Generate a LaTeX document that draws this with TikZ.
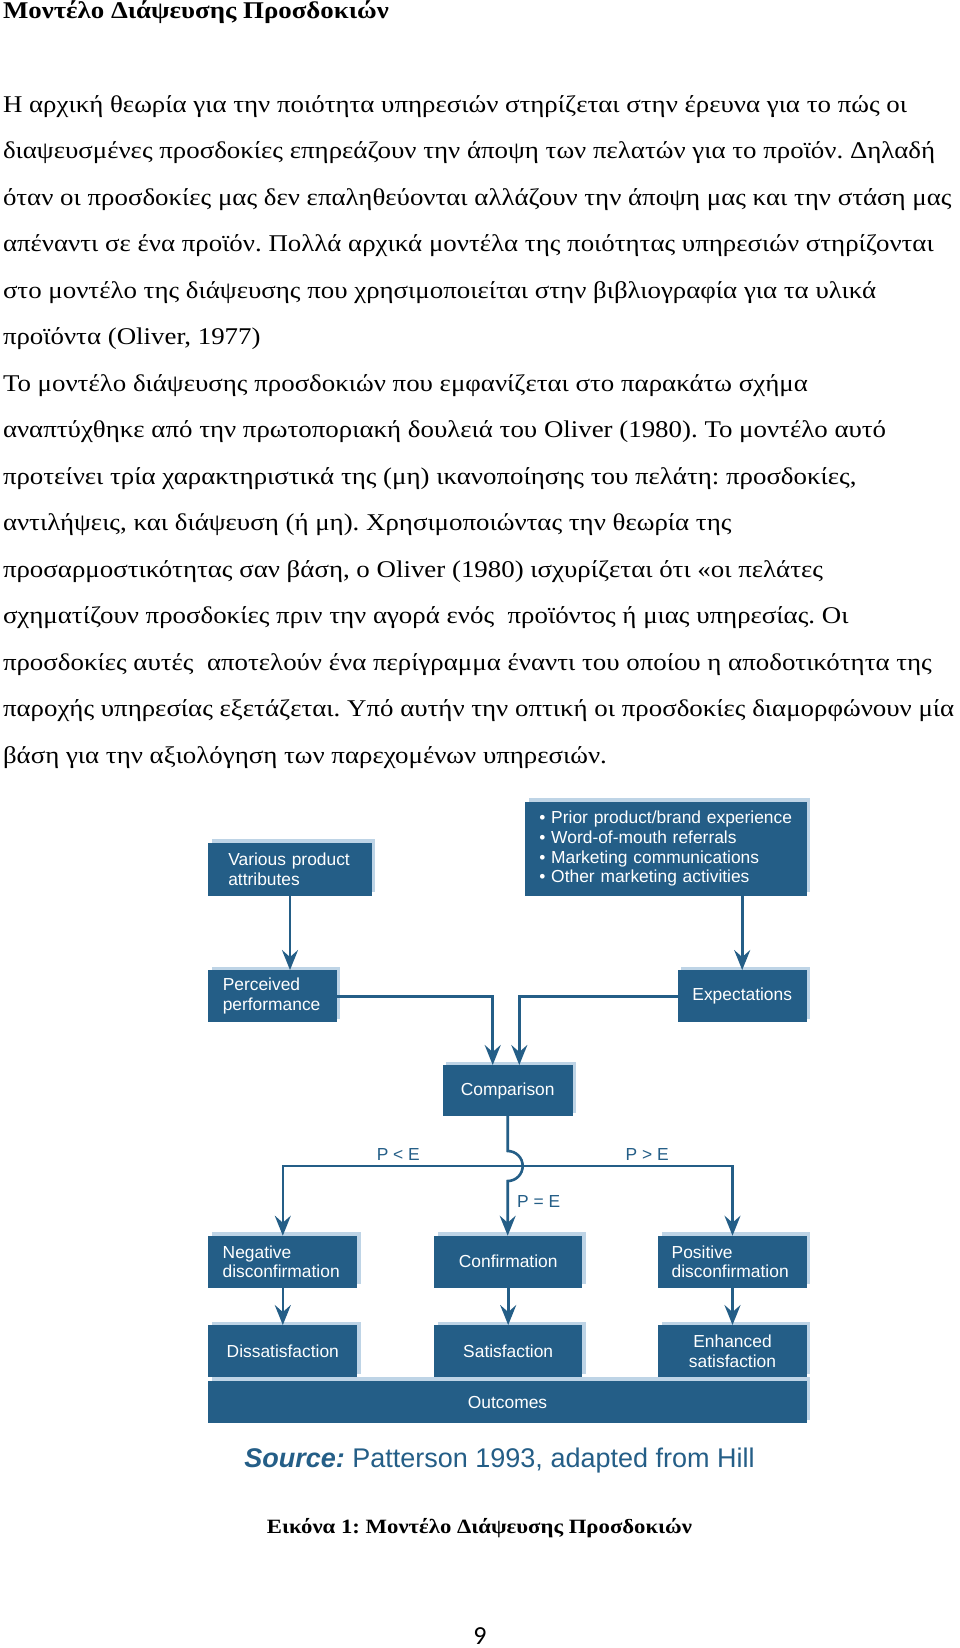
\documentclass[tikz,border=0pt]{standalone}
\usepackage{fontspec}
\setmainfont{Liberation Serif}[FakeStretch=1.12]
\newfontfamily\diagfont{Liberation Sans}
\newfontfamily\pagefont{Carlito}
\usetikzlibrary{arrows.meta,shadows}
\definecolor{boxblue}{RGB}{36,94,135}
\definecolor{shadeblue}{RGB}{190,212,230}
\frenchspacing

\begin{document}
\begin{tikzpicture}[x=1pt,y=-1pt]
  \tikzset{BodyStyle/.style = {
    anchor        = base west,
    inner sep     = 0pt,
    outer sep     = 0pt,
    text          = black,
    font          = \fontsize{24}{28}\selectfont
    }
  }
  \tikzset{HeadStyle/.style = {
    BodyStyle,
    font          = \fontsize{24}{28}\selectfont\bfseries
    }
  }
  \tikzset{BoxStyle/.style = {
    shape         = rectangle,
    fill          = boxblue,
    text          = white,
    inner sep     = 0pt,
    outer sep     = 0pt,
    align         = center,
    font          = \diagfont\fontsize{17.4}{19.6}\selectfont,
    drop shadow   = {fill=shadeblue, opacity=1, shadow xshift=3.5pt, shadow yshift=3.5pt}
    }
  }
  \tikzset{EdgeStyle/.style = {
    draw          = boxblue,
    line width    = 2.6pt,
    -{Stealth[length=20pt, width=16pt, inset=7pt]}
    }
  }
  \tikzset{EdgeLabelStyle/.style = {
    text          = boxblue,
    inner sep     = 0pt,
    font          = \diagfont\fontsize{17.4}{19.6}\selectfont
    }
  }

  \fill[white] (0,0) rectangle (960,1648);
  \useasboundingbox (0,0) rectangle (960,1648);

  % text of the page
  \node[HeadStyle](Head) at (3, 18.5) {Μοντέλο Διάψευσης Προσδοκιών};
  \node[BodyStyle](L1) at (3, 112.3) {Η αρχική θεωρία για την ποιότητα υπηρεσιών στηρίζεται στην έρευνα για το πώς οι};
  \node[BodyStyle](L2) at (3, 158.8) {διαψευσμένες προσδοκίες επηρεάζουν την άποψη των πελατών για το προϊόν. Δηλαδή};
  \node[BodyStyle](L3) at (3, 205.3) {όταν οι προσδοκίες μας δεν επαληθεύονται αλλάζουν την άποψη μας και την στάση μας};
  \node[BodyStyle](L4) at (3, 251.8) {απέναντι σε ένα προϊόν. Πολλά αρχικά μοντέλα της ποιότητας υπηρεσιών στηρίζονται};
  \node[BodyStyle](L5) at (3, 298.3) {στο μοντέλο της διάψευσης που χρησιμοποιείται στην βιβλιογραφία για τα υλικά};
  \node[BodyStyle](L6) at (3, 344.8) {προϊόντα (Oliver, 1977)};
  \node[BodyStyle](L7) at (3, 391.3) {Το μοντέλο διάψευσης προσδοκιών που εμφανίζεται στο παρακάτω σχήμα};
  \node[BodyStyle](L8) at (3, 437.8) {αναπτύχθηκε από την πρωτοποριακή δουλειά του Oliver (1980). Το μοντέλο αυτό};
  \node[BodyStyle](L9) at (3, 484.3) {προτείνει τρία χαρακτηριστικά της (μη) ικανοποίησης του πελάτη: προσδοκίες,};
  \node[BodyStyle](L10) at (3, 530.8) {αντιλήψεις, και διάψευση (ή μη). Χρησιμοποιώντας την θεωρία της};
  \node[BodyStyle](L11) at (3, 577.3) {προσαρμοστικότητας σαν βάση, ο Oliver (1980) ισχυρίζεται ότι «οι πελάτες};
  \node[BodyStyle](L12) at (3, 623.8) {σχηματίζουν προσδοκίες πριν την αγορά ενός\ \ προϊόντος ή μιας υπηρεσίας. Οι};
  \node[BodyStyle](L13) at (3, 670.3) {προσδοκίες αυτές\ \ αποτελούν ένα περίγραμμα έναντι του οποίου η αποδοτικότητα της};
  \node[BodyStyle](L14) at (3, 716.8) {παροχής υπηρεσίας εξετάζεται. Υπό αυτήν την οπτική οι προσδοκίες διαμορφώνουν μία};
  \node[BodyStyle](L15) at (3, 763.3) {βάση για την αξιολόγηση των παρεχομένων υπηρεσιών.};

  % the model
  \node[BoxStyle, align=left, text width=123.4pt, inner xsep=20pt, minimum height=53pt](Various) at (290, 869.2) {Various product\\attributes};
  \node[BoxStyle, align=left, text width=253.1pt, inner xsep=14.3pt, minimum height=94pt](Sources) at (665.9, 848.7) {• Prior product/brand experience\\• Word-of-mouth referrals\\• Marketing communications\\• Other marketing activities};
  \node[BoxStyle, align=left, text width=99.3pt, inner xsep=14.7pt, minimum height=52.3pt](Perceived) at (272.4, 996.2) {Perceived\\performance};
  \node[BoxStyle, minimum width=129pt, minimum height=52.3pt](Expect) at (742.2, 996.2) {Expectations};
  \node[BoxStyle, minimum width=130pt, minimum height=51pt](Compare) at (507.7, 1090.5) {Comparison};
  \node[BoxStyle, align=left, text width=120.2pt, inner xsep=14.4pt, minimum height=52pt](NegDisc) at (282.8, 1261.7) {Negative\\disconfirmation};
  \node[BoxStyle, minimum width=148.3pt, minimum height=52pt](Confirm) at (508.2, 1261.7) {Confirmation};
  \node[BoxStyle, align=left, text width=121.6pt, inner xsep=13.4pt, minimum height=52pt](PosDisc) at (732.5, 1261.7) {Positive\\disconfirmation};
  \node[BoxStyle, minimum width=149pt, minimum height=52.3pt](Dissat) at (282.8, 1351.2) {Dissatisfaction};
  \node[BoxStyle, minimum width=148.3pt, minimum height=52.3pt](Satis) at (508.2, 1351.2) {Satisfaction};
  \node[BoxStyle, minimum width=148.4pt, minimum height=52.3pt](Enhanced) at (732.5, 1351.2) {Enhanced\\satisfaction};
  \node[BoxStyle, minimum width=598.4pt, minimum height=42.6pt](Outcomes) at (507.5, 1402) {Outcomes};
  \coordinate (Fork) at (507.7, 1166);

  \draw[EdgeStyle](Various.south) -- (Various.south |- Perceived.north);
  \draw[EdgeStyle](Sources.south -| Expect.north) -- (Expect.north);
  \draw[EdgeStyle](Perceived.east) -| ([xshift=-15pt]Compare.north);
  \draw[EdgeStyle](Expect.west) -| ([xshift=11.6pt]Compare.north);
  \draw[EdgeStyle](Compare.south) -- ++(0,35) arc[start angle=-90, end angle=90, radius=15] -- (Compare.south |- Confirm.north);
  \draw[EdgeStyle](Fork) -| (NegDisc.north);
  \draw[EdgeStyle](Fork) -| (PosDisc.north);
  \draw[EdgeStyle](NegDisc.south) -- (Dissat.north);
  \draw[EdgeStyle](Confirm.south) -- (Satis.north);
  \draw[EdgeStyle](PosDisc.south) -- (Enhanced.north);
  \node[EdgeLabelStyle](PLess) at (398.3, 1155) {P < E};
  \node[EdgeLabelStyle](PMore) at (647.2, 1155) {P > E};
  \node[EdgeLabelStyle](PEqual) at (538.7, 1201) {P = E};

  \node[anchor=base, text=boxblue, inner sep=0pt, font=\diagfont\fontsize{27}{30}\selectfont](Source) at (499.5, 1467) {\textbf{\textit{Source:}} Patterson 1993, adapted from Hill};
  \node[anchor=base, inner sep=0pt, font=\fontsize{20.3}{24}\selectfont\bfseries](Caption) at (479.5, 1533) {Εικόνα 1: Μοντέλο Διάψευσης Προσδοκιών};
  \node[anchor=base, inner sep=0pt, font=\pagefont\fontsize{26}{30}\selectfont](PageNo) at (480, 1644) {9};

\end{tikzpicture}
\end{document}
